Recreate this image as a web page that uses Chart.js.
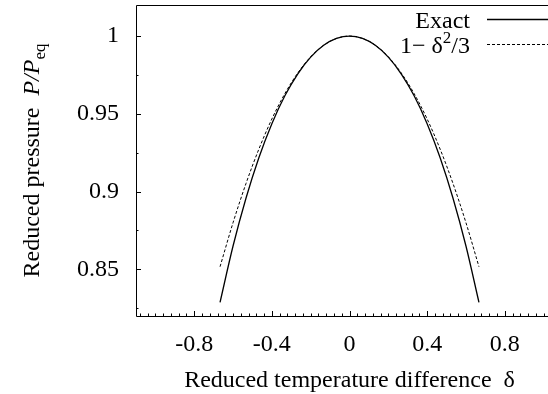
<!DOCTYPE html>
<html>
<head>
<meta charset="utf-8">
<script src="https://cdn.jsdelivr.net/npm/chart.js@4"></script>
<style>
  html, body { margin: 0; padding: 0; overflow: hidden; background: #fff; }
  canvas { display: block; }
</style>
</head>
<body>
<canvas id="chart" width="570" height="394"></canvas>
<script>
// reduced temperature difference and the two pressure curves
const delta  = [-0.667, -0.6, -0.533, -0.467, -0.4, -0.333, -0.267, -0.2, -0.133, -0.067, 0,
                0.067, 0.133, 0.2, 0.267, 0.333, 0.4, 0.467, 0.533, 0.6, 0.667];
const exact  = [0.8288, 0.865, 0.8959, 0.9218, 0.9437, 0.9616, 0.9756, 0.9865, 0.9941, 0.9985, 1,
                0.9985, 0.9941, 0.9865, 0.9756, 0.9616, 0.9437, 0.9218, 0.8959, 0.865, 0.8288];
const approx = [0.8517, 0.88, 0.9053, 0.9273, 0.9467, 0.963, 0.9762, 0.9867, 0.9941, 0.9985, 1,
                0.9985, 0.9941, 0.9867, 0.9762, 0.963, 0.9467, 0.9273, 0.9053, 0.88, 0.8517];
const xTicks = [-0.8, -0.4, 0, 0.4, 0.8];
const yTicks = [0.85, 0.9, 0.95, 1];
const seriesLabels = ['Exact', '1− δ²/3'];

const serif = '"Liberation Serif", "Times New Roman", serif';
const toPoints = ys => delta.map((d, i) => ({ x: d, y: ys[i] }));

// gnuplot style frame with inward ticks, titles and legend
const decor = {
  id: 'decor',
  afterDraw(chart) {
    const { ctx, chartArea: a, scales: { x, y } } = chart;
    ctx.save();
    ctx.strokeStyle = '#000';
    ctx.lineWidth = 1;
    ctx.beginPath();
    ctx.moveTo(a.left + 0.5, a.top + 0.5);
    ctx.lineTo(a.right + 0.5, a.top + 0.5);
    ctx.lineTo(a.right + 0.5, a.bottom + 0.5);
    ctx.lineTo(a.left + 0.5, a.bottom + 0.5);
    ctx.closePath();
    ctx.stroke();

    ctx.beginPath();
    for (let k = -27; k <= 27; k++) {
      const v = k * 0.04;
      const px = Math.round(x.getPixelForValue(v)) + 0.5;
      const len = k % 10 === 0 ? 5 : 2.5;
      ctx.moveTo(px, a.bottom);
      ctx.lineTo(px, a.bottom - len);
    }
    for (let k = 33; k <= 40; k++) {
      const v = k * 0.025;
      const py = Math.round(y.getPixelForValue(v)) + 0.5;
      const len = k % 2 === 0 ? 5 : 2.5;
      ctx.moveTo(a.left, py);
      ctx.lineTo(a.left + len, py);
    }
    ctx.stroke();

    ctx.fillStyle = '#000';
    ctx.textBaseline = 'alphabetic';

    // x title
    ctx.font = '24px ' + serif;
    ctx.textAlign = 'center';
    ctx.fillText('Reduced temperature difference  δ', (a.left + a.right) / 2, 387);

    // y title, with italic P/P and subscript eq
    ctx.save();
    ctx.translate(39, (a.top + a.bottom) / 2);
    ctx.rotate(-Math.PI / 2);
    ctx.textAlign = 'left';
    const f1 = '24px ' + serif, f2 = 'italic 24px ' + serif, f3 = '17px ' + serif;
    ctx.font = f1; const w1 = ctx.measureText('Reduced pressure  ').width;
    ctx.font = f2; const w2 = ctx.measureText('P/P').width;
    ctx.font = f3; const w3 = ctx.measureText('eq').width;
    let sx = -(w1 + w2 + w3) / 2;
    ctx.font = f1; ctx.fillText('Reduced pressure  ', sx, 0); sx += w1;
    ctx.font = f2; ctx.fillText('P/P', sx, 0); sx += w2;
    ctx.font = f3; ctx.fillText('eq', sx, 6);
    ctx.restore();

    // legend: right aligned text, sample line to the right
    const rows = [28, 53];
    chart.data.datasets.forEach((ds, i) => {
      const by = rows[i];
      const parts = ds.label.split('²');
      ctx.textAlign = 'left';
      ctx.font = f1;
      let wa = ctx.measureText(parts[0]).width, wb = 0, wc = 0;
      if (parts.length > 1) {
        ctx.font = f3; wb = ctx.measureText('2').width;
        ctx.font = f1; wc = ctx.measureText(parts[1]).width;
      }
      let tx = 470 - (wa + wb + wc);
      ctx.font = f1; ctx.fillText(parts[0], tx, by); tx += wa;
      if (parts.length > 1) {
        ctx.font = f3; ctx.fillText('2', tx, by - 10); tx += wb;
        ctx.font = f1; ctx.fillText(parts[1], tx, by);
      }
      ctx.beginPath();
      ctx.lineWidth = ds.borderWidth;
      ctx.setLineDash(ds.borderDash || []);
      ctx.moveTo(487, by - 8.5);
      ctx.lineTo(562, by - 8.5);
      ctx.stroke();
      ctx.setLineDash([]);
    });
    ctx.restore();
  }
};

new Chart(document.getElementById('chart'), {
  type: 'line',
  data: {
    datasets: [
      {
        label: seriesLabels[0],
        data: toPoints(exact),
        borderColor: '#000',
        borderWidth: 1.3,
        pointRadius: 0,
        cubicInterpolationMode: 'monotone'
      },
      {
        label: seriesLabels[1],
        data: toPoints(approx),
        borderColor: '#000',
        borderWidth: 1,
        borderDash: [3, 2],
        pointRadius: 0,
        cubicInterpolationMode: 'monotone'
      }
    ]
  },
  options: {
    responsive: false,
    animation: false,
    layout: { padding: { top: 5, right: 7, left: 0, bottom: 0 } },
    plugins: { legend: { display: false }, tooltip: { enabled: false } },
    scales: {
      x: {
        type: 'linear',
        min: -1.1,
        max: 1.1,
        grid: { display: false, drawTicks: false },
        border: { display: false },
        afterBuildTicks: s => { s.ticks = xTicks.map(v => ({ value: v })); },
        afterFit: s => { s.height = 78; s.paddingLeft = 0; s.paddingRight = 0; },
        ticks: {
          color: '#000',
          padding: 14,
          maxRotation: 0,
          font: { family: serif, size: 24 },
          callback: v => String(v)
        }
      },
      y: {
        min: 0.82,
        max: 1.02,
        grid: { display: false, drawTicks: false },
        border: { display: false },
        afterBuildTicks: s => { s.ticks = yTicks.map(v => ({ value: v })); },
        afterFit: s => { s.width = 136; s.paddingTop = 0; s.paddingBottom = 0; },
        ticks: {
          color: '#000',
          padding: 17,
          font: { family: serif, size: 24 },
          callback: v => String(v)
        }
      }
    }
  },
  plugins: [decor]
});
</script>
</body>
</html>
